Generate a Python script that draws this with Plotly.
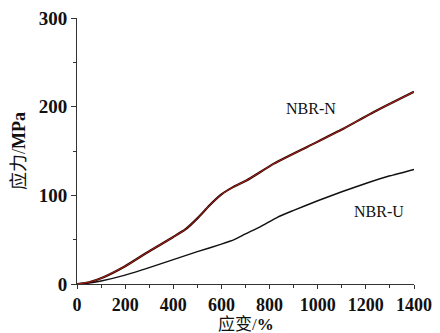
import plotly.graph_objects as go

strain_n = [0, 50, 100, 200, 300, 400, 450, 500, 550, 600, 650, 706, 820, 958, 1096, 1235, 1400]
stress_n = [0, 2.0, 6.4, 20, 37, 53, 61.5, 74, 88.5, 101, 109.5, 117, 136, 154.8, 173.6, 194.3, 216.8]

strain_u = [0, 50, 100, 200, 300, 400, 500, 600, 653, 700, 764, 834, 900, 1000, 1100, 1208, 1300, 1400]
stress_u = [0, 1.0, 3.4, 10, 18.5, 27.5, 36.5, 45, 50, 56.5, 65, 75.5, 83, 93.9, 104, 114.2, 122, 129.3]

labels = ["NBR-N", "NBR-U"]
label_x = [972, 1255]
label_y = [198, 81.5]

font_latin = "Liberation Serif, Times New Roman, serif"
font_cjk = "Liberation Serif, Noto Sans CJK SC, serif"

fig = go.Figure()
fig.add_trace(go.Scatter(x=strain_u, y=stress_u, mode="lines",
                         line=dict(color="#111111", width=1.5, shape="spline", smoothing=0.5),
                         showlegend=False))
fig.add_trace(go.Scatter(x=strain_n, y=stress_n, mode="lines",
                         line=dict(color="#2a0000", width=2.2, shape="spline", smoothing=0.5),
                         showlegend=False))
fig.add_trace(go.Scatter(x=strain_n, y=stress_n, mode="lines",
                         line=dict(color="#b0281a", width=1.0, shape="spline", smoothing=0.5),
                         showlegend=False))

for t, x, y in zip(labels, label_x, label_y):
    fig.add_annotation(x=x, y=y, text=t, showarrow=False,
                       font=dict(family=font_latin, size=16, color="#111111"))

# x-axis title placed just under the tick labels, as in the reference
fig.add_annotation(x=0.5, y=-0.152, xref="paper", yref="paper", yanchor="middle",
                   text="应变/<b>%</b>", showarrow=False,
                   font=dict(family=font_cjk, size=17, color="#111111"))

# page body has an 8px margin, so the figure is sized/offset to compensate
fig.update_layout(
    width=432, height=325,
    margin=dict(l=69, r=26, t=10, b=49),
    paper_bgcolor="white", plot_bgcolor="white",
)
fig.update_xaxes(
    range=[0, 1400], dtick=200, showgrid=False, zeroline=False, automargin=False,
    showline=True, linecolor="#333333", linewidth=1,
    ticks="outside", ticklen=4, tickcolor="#333333",
    minor=dict(dtick=100, ticks="outside", ticklen=3, tickcolor="#333333"),
    tickprefix="<b>", ticksuffix="</b>", ticklabeloverflow="allow",
    tickfont=dict(family=font_latin, size=18, color="#111111"),
)
fig.update_yaxes(
    range=[0, 300], dtick=100, showgrid=False, zeroline=False, automargin=False,
    showline=True, linecolor="#333333", linewidth=1,
    ticks="outside", ticklen=5, tickcolor="#333333",
    minor=dict(dtick=50, ticks="outside", ticklen=3, tickcolor="#333333"),
    tickprefix="<b>", ticksuffix="</b>", ticklabeloverflow="allow",
    tickfont=dict(family=font_latin, size=19, color="#111111"),
    title=dict(text="应力/<b>MPa</b>", font=dict(family=font_cjk, size=18, color="#111111"), standoff=8),
)
fig.write_html("out.html")
